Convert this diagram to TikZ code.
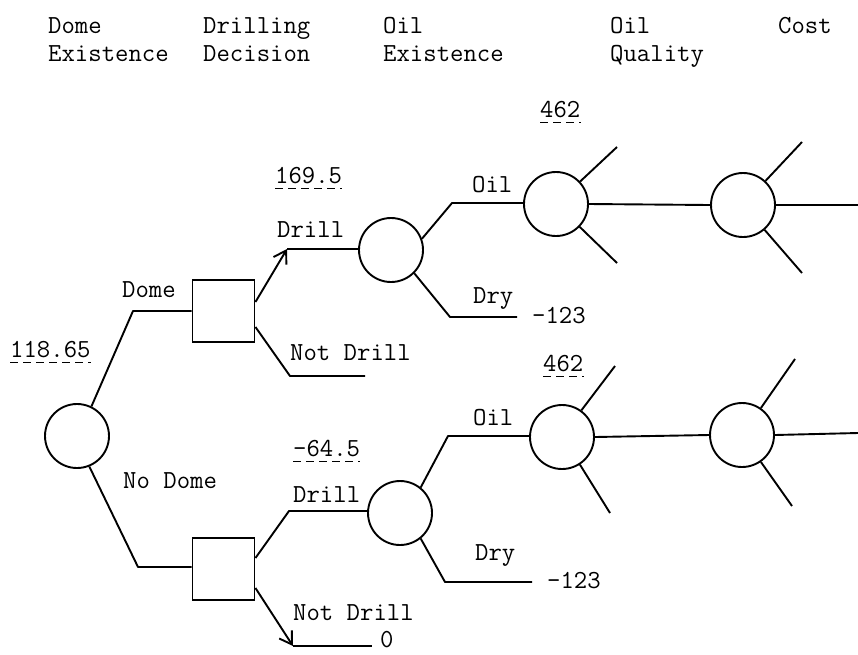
\documentclass[tikz,border=0pt]{standalone}
\usepackage{fontspec}
\usetikzlibrary{arrows.meta}
\begin{document}
\begin{tikzpicture}[x=1pt,y=-1pt,
  every node/.style={font=\fontsize{26}{28}\selectfont\ttfamily\addfontfeatures{FakeBold=1}},
  txt/.style={anchor=base west, inner sep=0pt},
  chance/.style={draw, circle, minimum size=64pt, inner sep=0pt, line width=1.9pt},
  decision/.style={draw, rectangle, minimum size=62pt, inner sep=0pt, line width=1.9pt},
  branch/.style={line width=1.9pt, line join=round},
  pick/.style={branch, -{Straight Barb[length=12pt,width=15pt]}},
  valueline/.style={line width=1.1pt, dash pattern=on 8pt off 5pt},
]
\useasboundingbox (0,0) rectangle (858,654);

% column headings
\node[txt] (h1a) at (48,33) {Dome};
\node[txt] (h1b) at (48,61) {Existence};
\node[txt] (h2a) at (203,33) {Drilling};
\node[txt] (h2b) at (203,61) {Decision};
\node[txt] (h3a) at (383,33) {Oil};
\node[txt] (h3b) at (383,61) {Existence};
\node[txt] (h4a) at (610,33) {Oil};
\node[txt] (h4b) at (610,61) {Quality};
\node[txt] (h5a) at (778,33) {Cost};

% nodes of the tree
\node[chance]   (root) at (77,436) {};
\node[decision] (dA)   at (223.5,311) {};
\node[decision] (dB)   at (223.5,569) {};
\node[chance]   (oA)   at (391,250) {};
\node[chance]   (oB)   at (400,513) {};
\node[chance]   (qA)   at (556,204) {};
\node[chance]   (qB)   at (562,437) {};
\node[chance]   (cA)   at (743,205) {};
\node[chance]   (cB)   at (742,435) {};

% bends and free ends
\coordinate (kDome)   at (133,311);
\coordinate (kNoDome) at (138,567);
\coordinate (kDrA)    at (287,249);
\coordinate (kNdA)    at (290,376);
\coordinate (eNdA)    at (365,376);
\coordinate (kDrB)    at (289,511);
\coordinate (kNdB)    at (293,646);
\coordinate (eNdB)    at (372,646);
\coordinate (kOilA)   at (452,203);
\coordinate (kDryA)   at (450,317);
\coordinate (eDryA)   at (517,317);
\coordinate (kOilB)   at (448,436);
\coordinate (kDryB)   at (445,582);
\coordinate (eDryB)   at (532,582);
\coordinate (sA1) at (617,147);
\coordinate (sA2) at (617,263);
\coordinate (sA3) at (802,142);
\coordinate (sA4) at (802,273);
\coordinate (sA5) at (858,205);
\coordinate (sB1) at (615,366);
\coordinate (sB2) at (610,513);
\coordinate (sB3) at (795,359);
\coordinate (sB4) at (792,506);
\coordinate (sB5) at (858,433);

% dome existence
\draw[branch] (root.64) -- (kDome) -- (dA.west);
\draw[branch] (root.-68) -- (kNoDome) -- (dB.west |- kNoDome);

% drilling decision, dome
\draw[pick] ([yshift=9pt]dA.east) -- (kDrA);
\draw[branch] (kDrA) -- (oA.west |- kDrA);
\draw[branch] ([yshift=-16pt]dA.east) -- (kNdA) -- (eNdA);

% drilling decision, no dome
\draw[branch] ([yshift=11pt]dB.east) -- (kDrB) -- (oB.west |- kDrB);
\draw[pick] ([yshift=-19pt]dB.east) -- (kNdB);
\draw[branch] (kNdB) -- (eNdB);

% oil existence
\draw[branch] (oA.20) -- (kOilA) -- (qA.west |- kOilA);
\draw[branch] (oA.-45) -- (kDryA) -- (eDryA);
\draw[branch] (oB.51) -- (kOilB) -- (qB.west |- kOilB);
\draw[branch] (oB.-51) -- (kDryB) -- (eDryB);

% oil quality and cost
\draw[branch] (qA.43) -- (sA1);
\draw[branch] (qA.-44) -- (sA2);
\draw[branch] (qA.east) -- (cA.west);
\draw[branch] (cA.47) -- (sA3);
\draw[branch] (cA.-49) -- (sA4);
\draw[branch] (cA.east) -- (sA5);
\draw[branch] (qB.54) -- (sB1);
\draw[branch] (qB.-57) -- (sB2);
\draw[branch] (qB.east) -- (cB.west);
\draw[branch] (cB.55) -- (sB3);
\draw[branch] (cB.-55) -- (sB4);
\draw[branch] (cB.east) -- (sB5);

% branch labels
\node[txt] (lDome)   at (122,297) {Dome};
\node[txt] (lNoDome) at (123,488) {No Dome};
\node[txt] (lDrA)    at (277,237) {Drill};
\node[txt] (lNdA)    at (290,360) {Not Drill};
\node[txt] (lDrB)    at (293,502) {Drill};
\node[txt] (lNdB)    at (293,620) {Not Drill};
\node[txt] (lOilA)   at (472,192) {Oil};
\node[txt] (lDryA)   at (473,303) {Dry};
\node[txt] (lOilB)   at (473,425) {Oil};
\node[txt] (lDryB)   at (475,560) {Dry};

% payoffs
\node[txt] (pDryA) at (532,323) {-123};
\node[txt] (pDryB) at (547,588) {-123};
\node[txt] (pNdB)  at (380,647) {0};

% expected values, underlined
\node[txt] (vRoot) at (10,357)  {118.65};
\node[txt] (vA)    at (275,183) {169.5};
\node[txt] (vB)    at (293,456) {-64.5};
\node[txt] (vQA)   at (540,117) {462};
\node[txt] (vQB)   at (543,371) {462};
\foreach \v in {vRoot,vA,vB,vQA,vQB}
  \draw[valueline] ([yshift=-5.5pt]\v.base west) -- ([yshift=-5.5pt]\v.base east);
\end{tikzpicture}
\end{document}
